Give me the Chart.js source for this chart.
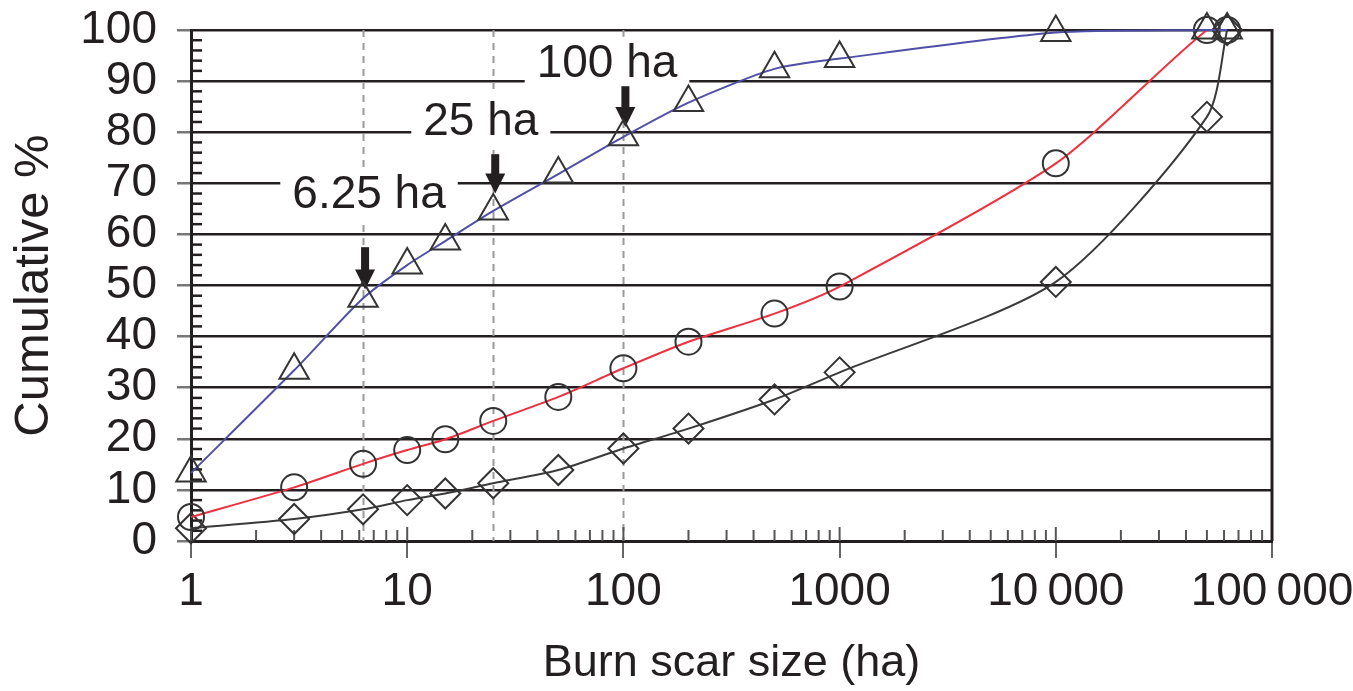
<!DOCTYPE html>
<html>
<head>
<meta charset="utf-8">
<script src="https://cdn.jsdelivr.net/npm/chart.js@4.4.1/dist/chart.umd.min.js"></script>
<style>
  html, body { margin: 0; padding: 0; background: #fff; }
  #wrap { width: 1353px; height: 691px; }
</style>
</head>
<body>
<div id="wrap"><canvas id="c" width="1353" height="691"></canvas></div>
<script>
// ---- data ----
const burnSizes = [1, 3, 6.25, 10, 15, 25, 50, 100, 200, 500, 1000, 10000, 50000, 62000];
const seriesTriangle = [13.3, 33.4, 47.5, 54.0, 58.7, 64.6, 71.8, 79.1, 85.8, 92.4, 94.4, 99.5, 100, 100];
const seriesCircle   = [4.7, 10.5, 15.1, 17.8, 19.9, 23.5, 28.2, 33.8, 39.0, 44.5, 49.8, 73.9, 100, 100];
const seriesDiamond  = [2.5, 4.3, 6.2, 8.0, 9.3, 11.3, 13.9, 18.1, 22.0, 27.7, 33.0, 50.7, 83.0, 100];
const xTickValues = [1, 10, 100, 1000, 10000, 100000];
const xTickLabels = ['1', '10', '100', '1000', '10\u2009000', '100\u2009000'];
const yTickValues = [0, 10, 20, 30, 40, 50, 60, 70, 80, 90, 100];
const markerSizes = [6.25, 25, 100];
const markerLabels = ['6.25 ha', '25 ha', '100 ha'];
const markerLabelX = [6.66, 21.9, 84];
const markerLabelY = [67.7, 82.0, 93.2];
const arrowTopY = [57.5, 75.7, 89.0];
const arrowTipY = [49.2, 68.0, 81.0];

const FONT = '"Liberation Sans", Arial, Helvetica, sans-serif';
const INK = '#231f20';

function pts(ys) { return burnSizes.map((x, i) => ({ x: x, y: ys[i] })); }

const decorPlugin = {
  id: 'decor',
  beforeDatasetsDraw(chart) {
    const ctx = chart.ctx, xs = chart.scales.x, ys = chart.scales.y, a = chart.chartArea;
    ctx.save();
    // vertical dashed reference lines
    ctx.strokeStyle = '#9a9a9a';
    ctx.lineWidth = 2;
    ctx.setLineDash([7, 6]);
    markerSizes.forEach(v => {
      const x = Math.round(xs.getPixelForValue(v)) + 0.5;
      ctx.beginPath(); ctx.moveTo(x, a.top); ctx.lineTo(x, a.bottom); ctx.stroke();
    });
    ctx.setLineDash([]);
    // minor y ticks inside
    ctx.strokeStyle = INK; ctx.lineWidth = 2.5;
    for (let v = 2; v < 100; v += 2) {
      if (v % 10 === 0) continue;
      const y = ys.getPixelForValue(v);
      ctx.beginPath(); ctx.moveTo(a.left, y); ctx.lineTo(a.left + 11, y); ctx.stroke();
    }
    // minor x ticks inside
    ctx.strokeStyle = '#555'; ctx.lineWidth = 2;
    for (let d = 1; d < 100000; d *= 10) {
      for (let m = 2; m <= 9; m++) {
        const x = xs.getPixelForValue(m * d);
        ctx.beginPath(); ctx.moveTo(x, a.bottom - 11); ctx.lineTo(x, a.bottom); ctx.stroke();
      }
    }
    xTickValues.forEach(v => {
      const x = xs.getPixelForValue(v);
      ctx.beginPath(); ctx.moveTo(x, a.bottom - 14); ctx.lineTo(x, a.bottom); ctx.stroke();
    });
    // right border
    ctx.strokeStyle = INK; ctx.lineWidth = 3;
    ctx.beginPath(); ctx.moveTo(a.right, a.top - 1); ctx.lineTo(a.right, a.bottom); ctx.stroke();
    // labels with white boxes
    ctx.font = '46px ' + FONT;
    ctx.textAlign = 'center'; ctx.textBaseline = 'middle';
    markerLabels.forEach((t, i) => {
      const cx = xs.getPixelForValue(markerLabelX[i]);
      const cy = ys.getPixelForValue(markerLabelY[i]);
      const w = ctx.measureText(t).width;
      ctx.fillStyle = '#fff';
      ctx.fillRect(cx - w / 2 - 12, cy - 28, w + 24, 56);
      ctx.fillStyle = INK;
      ctx.fillText(t, cx, cy);
    });
    // arrows
    ctx.fillStyle = INK;
    markerSizes.forEach((v, i) => {
      const x = xs.getPixelForValue(v) + 2;
      const top = ys.getPixelForValue(arrowTopY[i]);
      const tip = ys.getPixelForValue(arrowTipY[i]);
      const headLen = 20;
      ctx.fillRect(x - 4, top, 8, tip - top - headLen + 1);
      ctx.beginPath();
      ctx.moveTo(x - 10, tip - headLen); ctx.lineTo(x + 10, tip - headLen); ctx.lineTo(x, tip);
      ctx.closePath(); ctx.fill();
    });
    ctx.restore();
  }
};

const lineCommon = { borderWidth: 2, pointBorderColor: '#333', pointBorderWidth: 2,
  pointBackgroundColor: 'rgba(0,0,0,0)', tension: 0.25, clip: false };

new Chart(document.getElementById('c'), {
  type: 'line',
  data: {
    datasets: [
      Object.assign({ label: 'Triangles', data: pts(seriesTriangle), borderColor: '#4f4fa8',
        pointStyle: 'triangle', pointRadius: 17 }, lineCommon),
      Object.assign({ label: 'Circles', data: pts(seriesCircle), borderColor: '#f0303e',
        pointStyle: 'circle', pointRadius: 13 }, lineCommon),
      Object.assign({ label: 'Diamonds', data: pts(seriesDiamond), borderColor: '#3a3a3a',
        pointStyle: 'rectRot', pointRadius: 15 }, lineCommon)
    ]
  },
  options: {
    responsive: false,
    animation: false,
    devicePixelRatio: 1,
    layout: { padding: { left: 0, top: 30, right: 81, bottom: 0 } },
    plugins: { legend: { display: false }, tooltip: { enabled: false } },
    scales: {
      x: {
        type: 'logarithmic', min: 1, max: 100000,
        afterBuildTicks: s => { s.ticks = xTickValues.map(v => ({ value: v })); },
        afterFit: s => { s.height = 150; s.paddingLeft = 0; s.paddingRight = 0; },
        grid: { drawOnChartArea: false, drawTicks: true, tickLength: 17, color: '#666', lineWidth: 2 },
        border: { color: INK, width: 3 },
        ticks: {
          autoSkip: false, maxRotation: 0, padding: 7, color: INK,
          font: { family: FONT, size: 46 },
          callback: (v) => { const i = xTickValues.indexOf(v); return i >= 0 ? xTickLabels[i] : ''; }
        },
        title: { display: true, text: 'Burn scar size (ha)', color: INK,
          font: { family: FONT, size: 45 }, padding: { top: 0, bottom: 0 } }
      },
      y: {
        min: 0, max: 100,
        afterBuildTicks: s => { s.ticks = yTickValues.map(v => ({ value: v })); },
        afterFit: s => { s.width = 191; s.paddingTop = 0; s.paddingBottom = 0; },
        grid: { color: INK, lineWidth: 2.5, drawTicks: true, tickLength: 14, tickColor: '#777' },
        border: { color: INK, width: 3 },
        ticks: { autoSkip: false, padding: 20, color: INK, font: { family: FONT, size: 46 } },
        title: { display: true, text: 'Cumulative %', color: INK,
          font: { family: FONT, size: 49 }, padding: { top: 5, bottom: 0 } }
      }
    }
  },
  plugins: [decorPlugin]
});
</script>
</body>
</html>
